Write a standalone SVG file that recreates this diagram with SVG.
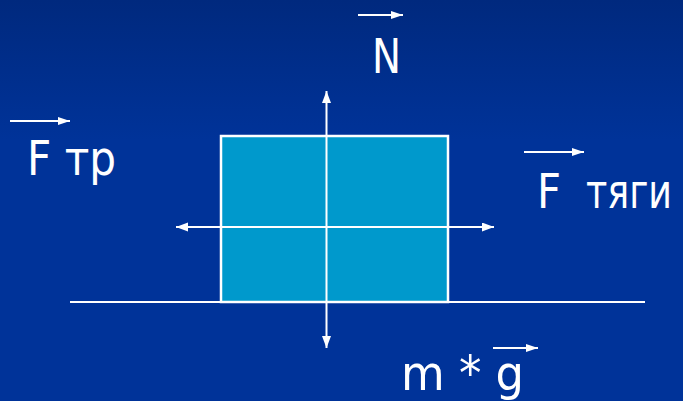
<svg xmlns="http://www.w3.org/2000/svg" width="683" height="401" viewBox="0 0 683 401">
<defs>
<linearGradient id="bg" x1="0" y1="0" x2="0" y2="1">
<stop offset="0" stop-color="#00297e"/>
<stop offset="0.35" stop-color="#003399"/>
<stop offset="1" stop-color="#003399"/>
</linearGradient>
<marker id="ah" markerUnits="userSpaceOnUse" markerWidth="13" markerHeight="10" refX="12" refY="4.5" orient="auto">
<path d="M0,0 L12,4.5 L0,9 Z" fill="#ffffff"/>
</marker>
<marker id="ahs" markerUnits="userSpaceOnUse" markerWidth="13" markerHeight="9" refX="12" refY="4" orient="auto">
<path d="M0,0 L12,4 L0,8 Z" fill="#ffffff"/>
</marker>
<style>
.lbl{font-family:"DejaVu Sans Condensed","DejaVu Sans","Liberation Sans",sans-serif;font-stretch:condensed;font-size:48px;fill:#ffffff}
.ax{stroke:#ffffff;stroke-width:2;fill:none;marker-end:url(#ah)}
.bar{stroke:#ffffff;stroke-width:2;fill:none;marker-end:url(#ahs)}
.line{stroke:#ffffff;stroke-width:2;fill:none}
</style>
</defs>
<rect x="0" y="0" width="683" height="401" fill="url(#bg)"/>
<g id="ground"><line class="line" x1="70" y1="302" x2="645" y2="302"/></g>
<g id="block"><rect x="221" y="136" width="227" height="166" fill="#0099cc" stroke="#ffffff" stroke-width="2.5"/></g>
<g id="connectors">
<line class="ax" x1="326.5" y1="227" x2="326.5" y2="91"/>
<line class="ax" x1="326.5" y1="227" x2="326.5" y2="348"/>
<line class="ax" x1="326.5" y1="227" x2="176" y2="227"/>
<line class="ax" x1="326.5" y1="227" x2="494" y2="227"/>
</g>
<g id="label-N">
<line class="bar" x1="358" y1="15" x2="403" y2="15"/>
<text class="lbl" x="372" y="73" textLength="29" lengthAdjust="spacingAndGlyphs">N</text>
</g>
<g id="label-Ftr">
<line class="bar" x1="10" y1="121" x2="70" y2="121"/>
<text class="lbl" x="27" y="175" textLength="89" lengthAdjust="spacingAndGlyphs">F тр</text>
</g>
<g id="label-Ftyagi">
<line class="bar" x1="524" y1="152" x2="584" y2="152"/>
<text class="lbl" y="208"><tspan x="537" textLength="24" lengthAdjust="spacingAndGlyphs">F</tspan><tspan x="586" textLength="86" lengthAdjust="spacingAndGlyphs">тяги</tspan></text>
</g>
<g id="label-mg">
<line class="bar" x1="493" y1="348" x2="538" y2="348"/>
<text class="lbl" x="401" y="390" textLength="123" lengthAdjust="spacingAndGlyphs">m * g</text>
</g>
</svg>
